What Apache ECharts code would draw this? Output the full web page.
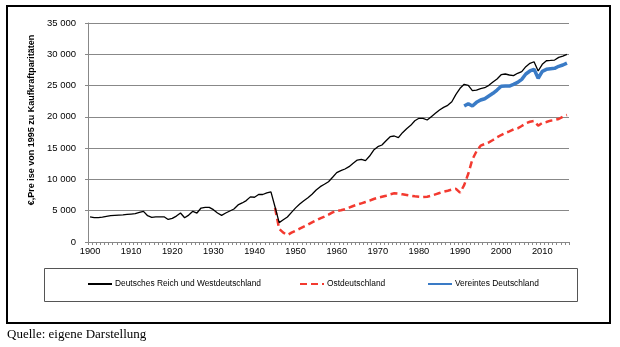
<!DOCTYPE html>
<html><head><meta charset="utf-8">
<script src="https://cdn.jsdelivr.net/npm/echarts@6/dist/echarts.min.js"></script>
<style>html,body{margin:0;padding:0;background:#fff}#c{width:620px;height:347px}</style>
</head><body><div id="c"></div>
<script>
var years = [1900,1901,1902,1903,1904,1905,1906,1907,1908,1909,1910,1911,1912,1913,1914,1915,1916,1917,1918,1919,
1920,1921,1922,1923,1924,1925,1926,1927,1928,1929,1930,1931,1932,1933,1934,1935,1936,1937,1938,1939,
1940,1941,1942,1943,1944,1945,1946,1947,1948,1949,1950,1951,1952,1953,1954,1955,1956,1957,1958,1959,
1960,1961,1962,1963,1964,1965,1966,1967,1968,1969,1970,1971,1972,1973,1974,1975,1976,1977,1978,1979,
1980,1981,1982,1983,1984,1985,1986,1987,1988,1989,1990,1991,1992,1993,1994,1995,1996,1997,1998,1999,
2000,2001,2002,2003,2004,2005,2006,2007,2008,2009,2010,2011,2012,2013,2014,2015,2016];

// Deutsches Reich und Westdeutschland, 1900-2016
var westValues = [4030,3900,3900,3980,4090,4200,4250,4300,4350,4410,
4470,4520,4730,4900,4200,3950,4030,4030,4030,3600,
3770,4140,4630,3870,4300,4900,4630,5430,5540,5540,
5170,4630,4250,4630,4950,5270,5920,6240,6620,7210,
7150,7590,7590,7850,8020,5600,3100,3550,4000,4730,
5450,6070,6600,7080,7620,8310,8840,9220,9640,10340,
11080,11400,11670,12040,12570,13100,13210,13000,13740,14700,
15230,15500,16190,16830,16940,16670,17470,18110,18640,19380,
19770,19770,19500,20030,20560,21090,21520,21840,22420,23600,
24560,25200,25040,24180,24260,24500,24660,25040,25570,26050,
26740,26850,26690,26580,26960,27220,28020,28550,28810,27330,
28400,28970,29020,29080,29510,29720,29990];

// Ostdeutschland, 1945-2016
var ostStart = 1945;
var ostValues = [5430,2100,1490,1120,1490,1810,2130,2450,2770,3140,
3460,3780,4050,4370,4740,4950,5060,5220,5490,5750,
5970,6180,6390,6600,6870,7080,7240,7400,7620,7780,
7720,7620,7510,7400,7300,7240,7190,7240,7400,7620,
7830,8040,8200,8380,8500,7880,9100,10900,13200,14500,
15390,15660,15930,16300,16730,17100,17420,17690,18010,18170,
18540,18970,19220,19340,18590,19020,19180,19390,19500,19660,
20030,20300];

// Vereintes Deutschland, 1991-2016
var unitedStart = 1991;
var unitedValues = [21730,22100,21730,22320,22690,22900,23330,23760,24290,24880,
24930,24930,25200,25520,26000,26850,27330,27600,26160,27280,
27600,27700,27760,28080,28290,28600];

var seriesNames = ['Deutsches Reich und Westdeutschland','Ostdeutschland','Vereintes Deutschland'];
var yTitle = '€,Pre ise von 1995 zu Kaufkraftparitäten';
var sourceText = 'Quelle: eigene Darstellung';

function pad(start, vals) {
  var out = [];
  for (var i = 0; i < years.length; i++) {
    var k = years[i] - start;
    out.push(k >= 0 && k < vals.length ? vals[k] : null);
  }
  return out;
}

var font = '"Liberation Sans", Arial, sans-serif';
var chart = echarts.init(document.getElementById('c'), null, {renderer: 'canvas'});
var legendBase = {orient: 'horizontal', top: 280, padding: 0, itemWidth: 24, itemHeight: 10,
  itemGap: 0, selectedMode: false,
  itemStyle: {color: 'rgba(0,0,0,0)', borderColor: 'rgba(0,0,0,0)', borderWidth: 0, opacity: 0},
  textStyle: {fontFamily: font, fontSize: 8.4, color: '#000', padding: [0,0,0,-2]}};

chart.setOption({
  animation: false,
  backgroundColor: '#fff',
  grid: {left: 88, right: 51, top: 23, bottom: 105, containLabel: false},
  legend: [
    Object.assign({}, legendBase, {left: 87, data: [seriesNames[0]]}),
    Object.assign({}, legendBase, {left: 299, data: [seriesNames[1]]}),
    Object.assign({}, legendBase, {left: 427, data: [seriesNames[2]]})
  ],
  xAxis: {
    type: 'category', data: years, boundaryGap: true,
    axisLine: {lineStyle: {color: '#888', width: 1}},
    axisTick: {show: true, interval: 0, length: 3, lineStyle: {color: '#888'}},
    axisLabel: {interval: 9, fontFamily: font, fontSize: 9.3, color: '#000', margin: 5},
    splitLine: {show: false}
  },
  yAxis: {
    type: 'value', min: 0, max: 35000, interval: 5000,
    axisLine: {show: true, lineStyle: {color: '#888', width: 1}},
    axisTick: {show: true, length: 3, lineStyle: {color: '#888'}},
    axisLabel: {fontFamily: font, fontSize: 9.5, color: '#000', margin: 12,
      formatter: function (v) { return v === 0 ? '0' : String(v).replace(/\B(?=(\d{3})+(?!\d))/g, ' '); }},
    splitLine: {show: true, lineStyle: {color: '#888', width: 1}}
  },
  series: [
    {name: seriesNames[0], type: 'line', data: pad(1900, westValues), symbol: 'none', showSymbol: false,
      lineStyle: {color: '#000', width: 1.3}, itemStyle: {color: '#000'}, z: 3},
    {name: seriesNames[1], type: 'line', data: pad(ostStart, ostValues), symbol: 'none', showSymbol: false,
      lineStyle: {color: '#f33a30', width: 2.5, type: [7, 4]}, itemStyle: {color: '#f33a30'}, z: 2},
    {name: seriesNames[2], type: 'line', data: pad(unitedStart, unitedValues), symbol: 'none', showSymbol: false,
      lineStyle: {color: '#3a7bc6', width: 3.5}, itemStyle: {color: '#3a7bc6'}, z: 2}
  ],
  graphic: [
    {type: 'rect', shape: {x: 7, y: 6, width: 603, height: 317}, style: {fill: 'none', stroke: '#000', lineWidth: 2}, silent: true, z: -1},
    {type: 'rect', shape: {x: 44.5, y: 268.5, width: 533, height: 33}, style: {fill: 'none', stroke: '#555', lineWidth: 1}, silent: true, z: -1},
    {type: 'text', x: 32, y: 120, rotation: Math.PI / 2,
      style: {text: yTitle, font: 'bold 9px "Liberation Sans", Arial, sans-serif', fill: '#000', textAlign: 'center', textVerticalAlign: 'middle'}},
    {type: 'text', x: 7, y: 335,
      style: {text: sourceText, font: '13px "Liberation Serif", "Times New Roman", serif', fill: '#000', textAlign: 'left', textVerticalAlign: 'middle'}}
  ]
});
</script></body></html>
